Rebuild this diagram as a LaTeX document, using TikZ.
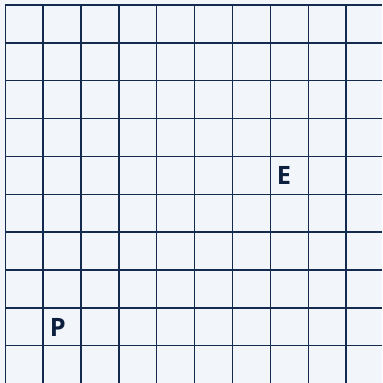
\documentclass[tikz,border=0pt]{standalone}
\usepackage{fontspec}
\setmainfont{Open Sans}
\definecolor{gridnavy}{HTML}{142A4E}
\definecolor{paper}{HTML}{F2F6FA}
\definecolor{letter}{HTML}{0D1F3F}
\begin{document}
\begin{tikzpicture}[
    gridline/.style={draw=gridnavy, line width=1.0pt},
    marker/.style={font=\fontsize{19}{22}\selectfont\bfseries, text=letter, inner sep=0pt}
]

% Background
\fill[paper] (0,0) rectangle (10.09,10.116);
\useasboundingbox (0,0) rectangle (10.09,10.116);

% Grid
\foreach \i in {0,...,9} {
    \draw[gridline] (0.14+\i,0) -- (0.14+\i,9.984);
    \draw[gridline] (0.14,9.984-\i) -- (10.09,9.984-\i);
}

% Letters
\node[marker] (p) at (1.53,1.47) {P};
\node[marker] (e) at (7.50,5.492) {E};

\end{tikzpicture}
\end{document}
